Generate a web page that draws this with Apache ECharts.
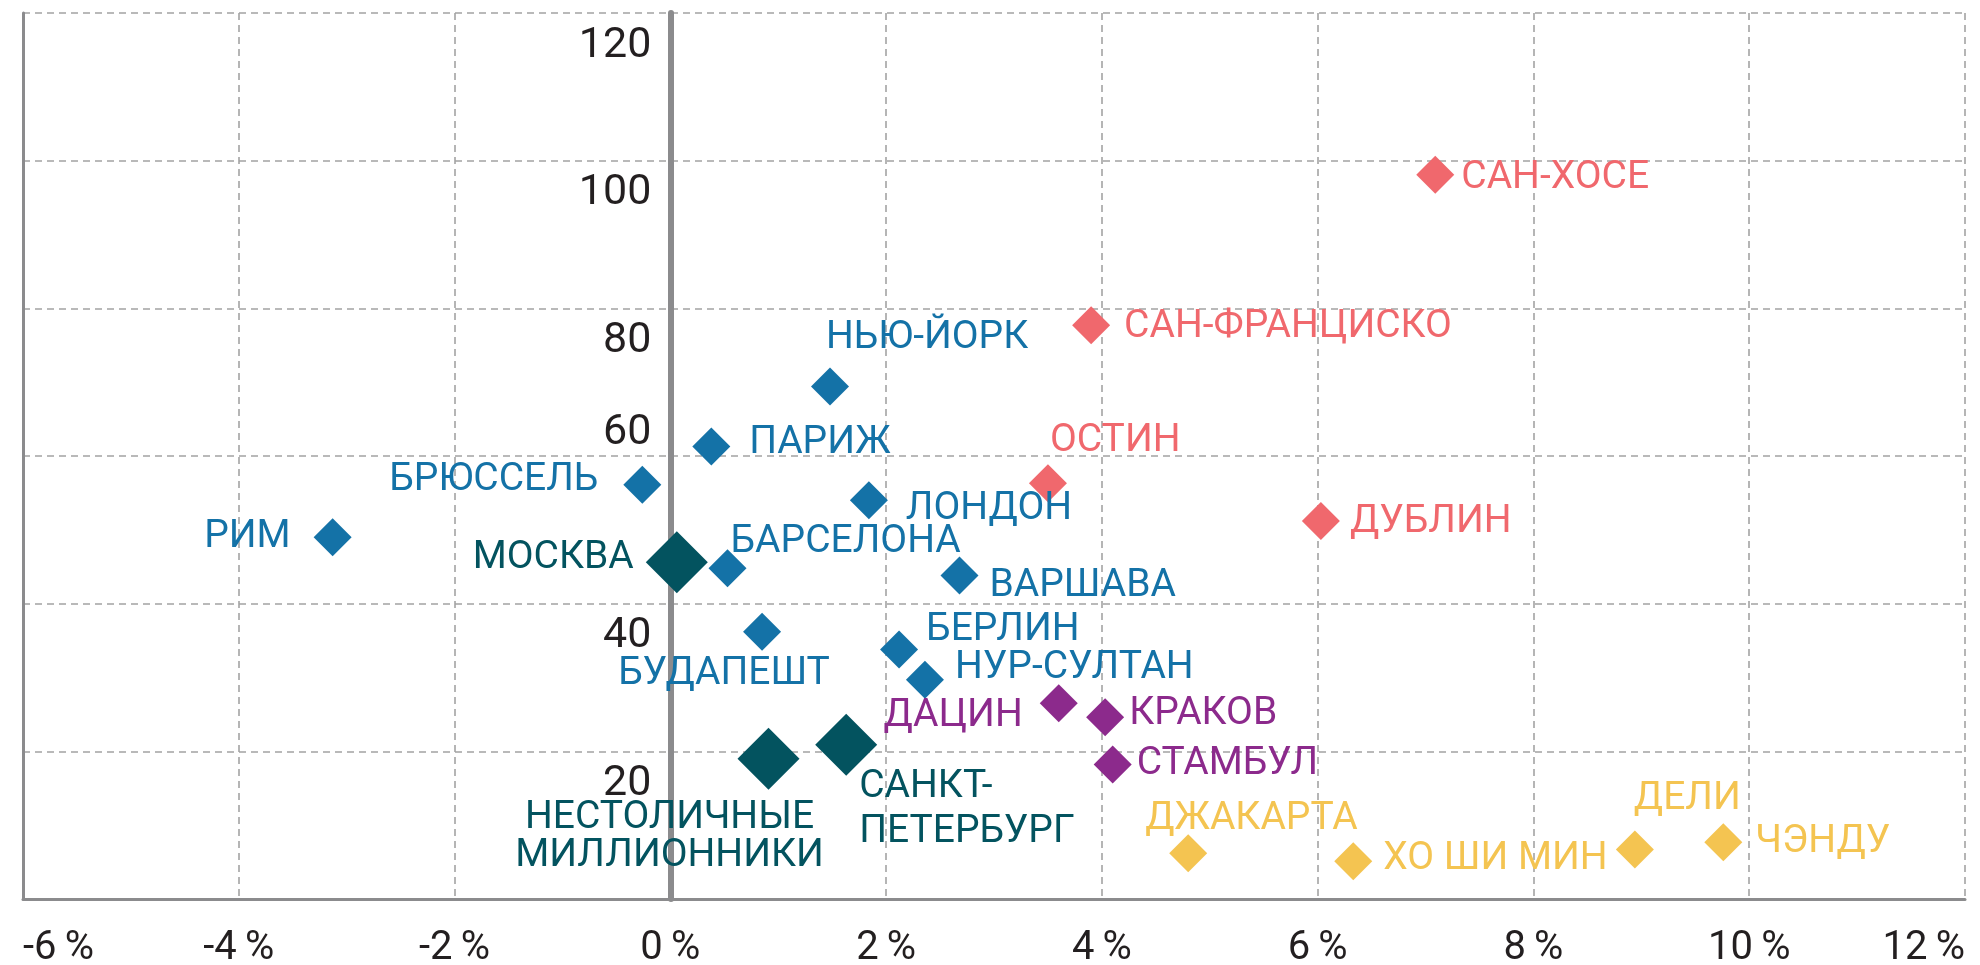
<!DOCTYPE html>
<html>
<head>
<meta charset="utf-8">
<script src="https://cdn.jsdelivr.net/npm/echarts@6/dist/echarts.min.js"></script>
<style>
  html, body { margin: 0; padding: 0; background: #fff; }
  #chart { width: 1980px; height: 965px; }
</style>
</head>
<body>
<div id="chart"></div>
<script>
// города, рост (%, ось X) и значение (ось Y)
const cities = ['САН-ХОСЕ', 'САН-ФРАНЦИСКО', 'ОСТИН', 'ДУБЛИН',
  'НЬЮ-ЙОРК', 'ПАРИЖ', 'БРЮССЕЛЬ', 'ЛОНДОН', 'РИМ', 'БАРСЕЛОНА', 'ВАРШАВА', 'БУДАПЕШТ', 'БЕРЛИН', 'НУР-СУЛТАН',
  'МОСКВА', 'НЕСТОЛИЧНЫЕ\nМИЛЛИОННИКИ', 'САНКТ-\nПЕТЕРБУРГ',
  'ДАЦИН', 'КРАКОВ', 'СТАМБУЛ',
  'ДЖАКАРТА', 'ХО ШИ МИН', 'ДЕЛИ', 'ЧЭНДУ']
const growth = [7.09, 3.90, 3.50, 6.03,
  1.48, 0.38, -0.26, 1.84, -3.13, 0.53, 2.68, 0.85, 2.12, 2.36,
  0.06, 0.91, 1.63,
  3.60, 4.03, 4.10,
  4.80, 6.33, 8.94, 9.76]
const values = [98.1, 77.7, 56.3, 51.2,
  69.4, 61.3, 56.1, 54.0, 49.0, 44.8, 43.8, 36.2, 33.8, 29.7,
  45.6, 19.0, 20.9,
  26.5, 24.6, 18.2,
  6.2, 5.1, 6.7, 7.7]
const groups = [0, 0, 0, 0,
  1, 1, 1, 1, 1, 1, 1, 1, 1, 1,
  2, 2, 2,
  3, 3, 3,
  4, 4, 4, 4]
const xTicks = [-6, -4, -2, 0, 2, 4, 6, 8, 10, 12]
const yTicks = [0, 20, 40, 60, 80, 100, 120]

// оформление групп и подписей
const groupColors = ['#f0686d', '#1472a7', '#03535f', '#8c2a8c', '#f4c451']
const groupSizes = [38, 38, 62, 38, 38]
// [выравнивание, dx, dy] подписи относительно центра ромба
const labelPlace = [
  ['left', 26, 4], ['left', 33, 2], ['left', 2, -42], ['left', 29, 1],
  ['left', -4, -48], ['left', 38, -3], ['right', -44, -5], ['left', 37, 9], ['right', -42, 0],
  ['left', 3, -26], ['left', 30, 11], ['center', -38, 43], ['left', 27, -19], ['left', 30, -11],
  ['right', -43, -4], ['center', -99, 79], ['left', 13, 65],
  ['right', -36, 13], ['left', 24, -3], ['left', 24, 0],
  ['left', -43, -34], ['left', 30, -2], ['left', -1, -50], ['left', 32, 0]
]

const FONT = 'Roboto'
const GRID_COLOR = '#a3a3a3'
const AXIS_COLOR = '#8b8b8d'
const GRID_LEFT = 23
const GRID_RIGHT = 15
const CHART_W = 1980

let series = groupColors.map((color, g) => {
  let data = []
  for (let i = 0; i < cities.length; i++) {
    if (groups[i] !== g) continue
    let p = labelPlace[i]
    data.push({
      name: cities[i],
      value: [growth[i], values[i]],
      label: {
        align: p[0],
        offset: [p[1], p[2]],
        lineHeight: i === 16 ? 45 : 38
      }
    })
  }
  return {
    type: 'scatter',
    symbol: 'diamond',
    symbolSize: groupSizes[g],
    itemStyle: { color: color, opacity: 1 },
    label: {
      show: true,
      position: ['50%', '50%'],
      verticalAlign: 'middle',
      formatter: '{b}',
      color: color,
      fontFamily: FONT,
      fontSize: 39
    },
    emphasis: { disabled: true },
    data: data
  }
})

// ось Y с подписями стоит на нуле оси X
let xMin = xTicks[0]
let xMax = xTicks[xTicks.length - 1]
let plotW = CHART_W - GRID_LEFT - GRID_RIGHT
let zeroShift = plotW * (0 - xMin) / (xMax - xMin)

let chart = echarts.init(document.getElementById('chart'))
chart.setOption({
  animation: false,
  backgroundColor: '#fff',
  grid: { left: GRID_LEFT, right: GRID_RIGHT, top: 13, bottom: 66, outerBoundsMode: 'none' },
  xAxis: {
    type: 'value',
    min: xMin,
    max: xMax,
    interval: 2,
    axisLine: { onZero: false, lineStyle: { color: AXIS_COLOR, width: 3 } },
    axisTick: { show: false },
    splitLine: { show: true, lineStyle: { color: GRID_COLOR, width: 1.6, type: [7, 5] } },
    axisLabel: {
      margin: 30,
      color: '#231f20',
      fontFamily: FONT,
      fontSize: 40,
      alignMinLabel: 'left',
      alignMaxLabel: 'right',
      formatter: v => v + '\u2009%'
    }
  },
  yAxis: [{
    type: 'value',
    min: yTicks[0],
    max: yTicks[yTicks.length - 1],
    interval: 20,
    position: 'left',
    offset: -zeroShift,
    axisLine: { onZero: false, lineStyle: { color: AXIS_COLOR, width: 6 } },
    axisTick: { show: false },
    splitLine: { show: true, lineStyle: { color: GRID_COLOR, width: 1.6, type: [7, 5] } },
    axisLabel: {
      margin: 19,
      color: '#231f20',
      fontFamily: FONT,
      fontSize: 43,
      formatter: v => v === 0 ? '' : (v === 60 ? '{up|' + v + '}' : '{dn|' + v + '}'),
      rich: {
        up: { padding: [0, 0, 45, 0], color: '#231f20', fontFamily: FONT, fontSize: 43 },
        dn: { padding: [66, 0, 0, 0], color: '#231f20', fontFamily: FONT, fontSize: 43 }
      }
    }
  }, {
    type: 'value',
    min: yTicks[0],
    max: yTicks[yTicks.length - 1],
    interval: 20,
    position: 'left',
    axisLine: { show: true, onZero: false, lineStyle: { color: AXIS_COLOR, width: 3 } },
    axisTick: { show: false },
    axisLabel: { show: false },
    splitLine: { show: false }
  }],
  series: series
})
</script>
</body>
</html>
